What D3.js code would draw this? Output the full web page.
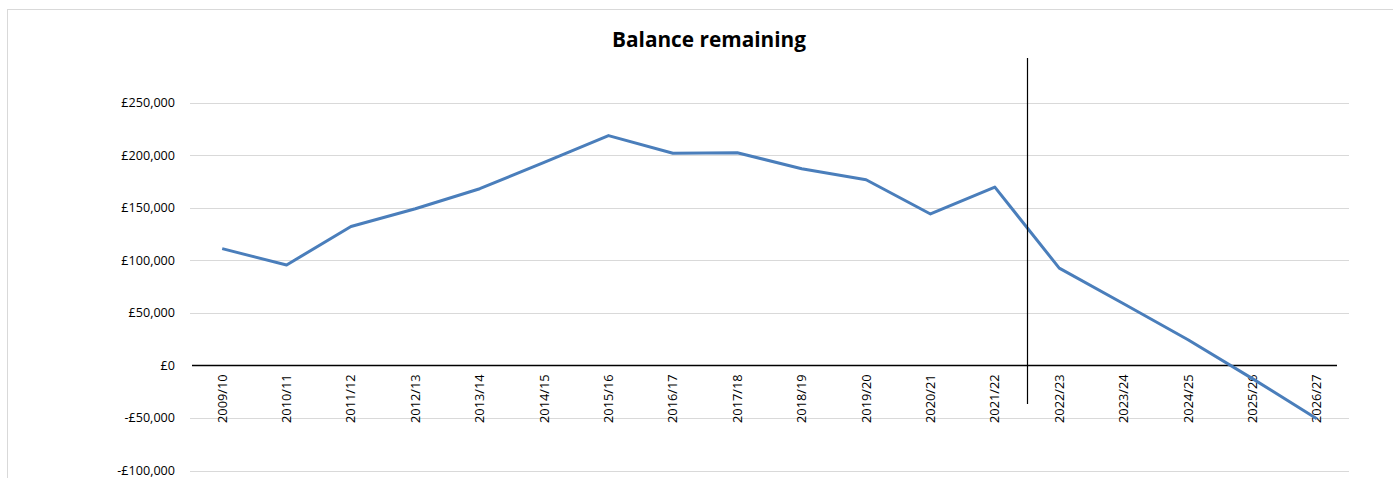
<!DOCTYPE html>
<html>
<head>
<meta charset="utf-8">
<script src="https://cdn.jsdelivr.net/npm/d3@7/dist/d3.min.js"></script>
<style>
  html, body { margin: 0; padding: 0; background: #fff; }
  svg { display: block; }
</style>
</head>
<body>
<svg id="chart" width="1393" height="478"></svg>
<script>
const categories = ["2009/10","2010/11","2011/12","2012/13","2013/14","2014/15","2015/16","2016/17","2017/18","2018/19","2019/20","2020/21","2021/22","2022/23","2023/24","2024/25","2025/26","2026/27"];
const balance = [111000, 95500, 132000, 149000, 168000, 193000, 218500, 201800, 202200, 187000, 176500, 144000, 169500, 92500, 58600, 24400, -12600, -50700];
const yTicks = [-100000, -50000, 0, 50000, 100000, 150000, 200000, 250000];
const dividerAfter = "2021/22";
const title = "Balance remaining";

const svg = d3.select("#chart");
const font = "'Open Sans', 'Liberation Sans', sans-serif";

// chart border
svg.append("rect").attr("x", 7.5).attr("y", 9.5).attr("width", 1400).attr("height", 480)
  .attr("fill", "none").attr("stroke", "#d9d9d9").attr("stroke-width", 1);

const plot = { left: 190, right: 1349, top: 60, bottom: 470 };
const x = d3.scaleBand().domain(categories).range([plot.left, plot.right]);
const y = d3.scaleLinear().domain([-100000, 250000]).range([470.5, 102.5]);

// gridlines
svg.append("g").selectAll("line").data(yTicks.filter(d => d !== 0)).join("line")
  .attr("x1", plot.left).attr("x2", plot.right)
  .attr("y1", d => Math.round(y(d)) + 0.5).attr("y2", d => Math.round(y(d)) + 0.5)
  .attr("stroke", "#d9d9d9").attr("stroke-width", 1);

// y axis labels
const fmt = v => (v < 0 ? "-" : "") + "£" + d3.format(",")(Math.abs(v));
svg.append("g").selectAll("text").data(yTicks).join("text")
  .attr("x", 175).attr("y", d => y(d) + 4.5)
  .attr("text-anchor", "end").attr("font-family", font).attr("font-size", 12.6)
  .attr("fill", "#000").text(fmt);

// zero axis line
svg.append("line").attr("x1", plot.left + 2).attr("x2", 1337)
  .attr("y1", Math.round(y(0)) + 0.5).attr("y2", Math.round(y(0)) + 0.5)
  .attr("stroke", "#000").attr("stroke-width", 1.3);

// category labels
svg.append("g").selectAll("text").data(categories).join("text")
  .attr("transform", d => `translate(${x(d) + x.bandwidth() / 2 + 4.5},${y(0) + 9}) rotate(-90)`)
  .attr("text-anchor", "end").attr("font-family", font).attr("font-size", 12.8)
  .attr("fill", "#000").text(d => d);

// the line
const line = d3.line()
  .x((d, i) => x(categories[i]) + x.bandwidth() / 2)
  .y(d => y(d));
svg.append("path").datum(balance).attr("d", line)
  .attr("fill", "none").attr("stroke", "#4a7ebb").attr("stroke-width", 3)
  .attr("stroke-linejoin", "round");

// divider
const dx = Math.round(x(dividerAfter) + x.bandwidth()) + 0.5;
svg.append("line").attr("x1", dx).attr("x2", dx).attr("y1", 58).attr("y2", 404)
  .attr("stroke", "#000").attr("stroke-width", 1.2);

// title
svg.append("text").attr("x", 709).attr("y", 47).attr("text-anchor", "middle")
  .attr("font-family", font).attr("font-weight", "bold").attr("font-size", 20.8)
  .attr("fill", "#000").text(title);
</script>
</body>
</html>
